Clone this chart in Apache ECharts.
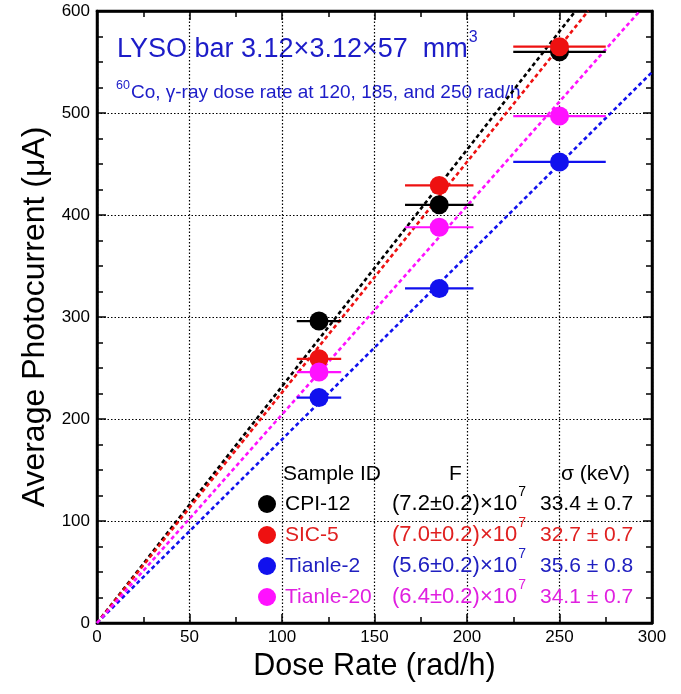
<!DOCTYPE html>
<html><head><meta charset="utf-8">
<script src="https://cdn.jsdelivr.net/npm/echarts@6/dist/echarts.min.js"></script>
<style>html,body{margin:0;padding:0;background:#fff}#c{width:681px;height:694px}</style>
</head><body><div id="c"></div>
<script>
const doseRates = [120, 185, 250];
const doseErrFrac = 0.1;
const samples = ['CPI-12', 'SIC-5', 'Tianle-2', 'Tianle-20'];
const photocurrent = {
  'CPI-12':   [296, 410, 560],
  'SIC-5':    [259, 429, 565],
  'Tianle-2': [221, 328, 452],
  'Tianle-20':[246, 388, 497]
};
const fitSlopes = { 'CPI-12': 2.32, 'SIC-5': 2.26, 'Tianle-2': 1.80, 'Tianle-20': 2.045 };
const Fvals = ['7.2', '7.0', '5.6', '6.4'];
const sigmaVals = ['33.4 \u00b1 0.7', '32.7 \u00b1 0.7', '35.6 \u00b1 0.8', '34.1 \u00b1 0.7'];
const colors = { 'CPI-12': '#000000', 'SIC-5': '#ee1111', 'Tianle-2': '#1111ee', 'Tianle-20': '#ff11ff' };
const textColors = { 'CPI-12': '#000000', 'SIC-5': '#e02020', 'Tianle-2': '#2020c0', 'Tianle-20': '#e020e0' };
const xTicks = [0, 50, 100, 150, 200, 250, 300];
const yTicks = [0, 100, 200, 300, 400, 500, 600];

const XMAX = 300, YMAX = 600;
const font = 'Liberation Sans, Arial, sans-serif';
const mctx = document.createElement('canvas').getContext('2d');
function tw(t, fs) { mctx.font = fs + 'px ' + font; return mctx.measureText(t).width; }

const series = [];
samples.forEach(s => {
  const k = fitSlopes[s];
  const xe = Math.min(XMAX, YMAX / k);
  series.push({
    type: 'line', data: [[0, 0], [xe, k * xe]], symbol: 'none', silent: true, z: 2,
    lineStyle: { color: colors[s], width: 2.6, type: [4, 3] }
  });
});
samples.forEach(s => {
  series.push({
    type: 'custom', z: 3, silent: true,
    data: doseRates.map((d, i) => [d, photocurrent[s][i], d * doseErrFrac]),
    renderItem: (params, api) => {
      const x = api.value(0), y = api.value(1), e = api.value(2);
      const p1 = api.coord([x - e, y]), p2 = api.coord([x + e, y]);
      return { type: 'line', shape: { x1: p1[0], y1: p1[1], x2: p2[0], y2: p2[1] },
        style: { stroke: colors[s], lineWidth: 2.2 } };
    }
  });
  series.push({
    type: 'scatter', z: 4, symbol: 'circle', symbolSize: 19,
    data: doseRates.map((d, i) => [d, photocurrent[s][i]]),
    itemStyle: { color: colors[s], opacity: 1 }
  });
});

const tickStyle = { color: '#000', width: 1.5 };
function ax(extra, minorSplit) {
  return Object.assign({
    axisLine: { show: true, onZero: false, lineStyle: { color: '#000', width: 2.5 } },
    axisTick: { show: true, inside: true, length: 9, lineStyle: tickStyle },
    minorTick: { show: true, splitNumber: minorSplit, length: 6, lineStyle: tickStyle }
  }, extra);
}

const gl = 97, gt = 11, gw = 555, gh = 612;
const blue = '#1c1cc8';
const graphics = [];
// title line 1
const t1 = 'LYSO bar 3.12\u00d73.12\u00d757  mm', f1 = 27;
graphics.push({ type: 'text', x: 117, y: 50, style: { text: t1, fontSize: f1, fill: blue, fontFamily: font, verticalAlign: 'middle' } });
graphics.push({ type: 'text', x: 117 + tw(t1, f1) + 1, y: 38, style: { text: '3', fontSize: 16, fill: blue, fontFamily: font, verticalAlign: 'middle' } });
// title line 2
graphics.push({ type: 'text', x: 116, y: 86, style: { text: '60', fontSize: 12.5, fill: blue, fontFamily: font, verticalAlign: 'middle' } });
graphics.push({ type: 'text', x: 116 + tw('60', 12.5) + 1, y: 93, style: { text: 'Co, \u03b3-ray dose rate at 120, 185, and 250 rad/h', fontSize: 19, fill: blue, fontFamily: font, verticalAlign: 'middle' } });
// legend table
const lf = 21;
graphics.push({ type: 'text', x: 283, y: 474, style: { text: 'Sample ID', fontSize: lf, fill: '#000', fontFamily: font, verticalAlign: 'middle' } });
graphics.push({ type: 'text', x: 449, y: 474, style: { text: 'F', fontSize: lf, fill: '#000', fontFamily: font, verticalAlign: 'middle' } });
graphics.push({ type: 'text', x: 561, y: 474, style: { text: '\u03c3 (keV)', fontSize: lf, fill: '#000', fontFamily: font, verticalAlign: 'middle' } });
const rowY = [504, 535, 566, 597];
samples.forEach((s, i) => {
  const c = textColors[s];
  const fy = rowY[i];
  graphics.push({ type: 'circle', z: 10, shape: { cx: 267, cy: fy, r: 9 }, style: { fill: colors[s] } });
  graphics.push({ type: 'text', z: 10, x: 285, y: fy, style: { text: s, fontSize: lf, fill: c, fontFamily: font, verticalAlign: 'middle' } });
  const ft = '(' + Fvals[i] + '\u00b10.2)\u00d710', ff = 22;
  graphics.push({ type: 'text', z: 10, x: 392, y: fy, style: { text: ft, fontSize: ff, fill: c, fontFamily: font, verticalAlign: 'middle' } });
  graphics.push({ type: 'text', z: 10, x: 392 + tw(ft, ff) + 1, y: fy - 12, style: { text: '7', fontSize: 14, fill: c, fontFamily: font, verticalAlign: 'middle' } });
  graphics.push({ type: 'text', z: 10, x: 540, y: fy, style: { text: sigmaVals[i], fontSize: lf, fill: c, fontFamily: font, verticalAlign: 'middle' } });
});

const chart = echarts.init(document.getElementById('c'));
chart.setOption({
  animation: false,
  backgroundColor: '#fff',
  grid: { left: gl, top: gt, width: gw, height: gh, show: true, borderColor: '#000', borderWidth: 2.5, backgroundColor: 'transparent' },
  xAxis: [
    ax({
      type: 'value', min: 0, max: XMAX, interval: 50,
      name: 'Dose Rate (rad/h)', nameLocation: 'middle', nameGap: 28,
      nameTextStyle: { fontSize: 30.5, color: '#000', fontFamily: font, verticalAlign: 'top' },
      axisLabel: { fontSize: 17, color: '#000', fontFamily: font, margin: 6, formatter: v => xTicks.includes(v) ? String(v) : '' },
      splitLine: { show: true, lineStyle: { color: '#000', type: [1.5, 2], width: 1.2 } }
    }, 2),
    ax({ type: 'value', position: 'top', min: 0, max: XMAX, interval: 50, axisLabel: { show: false }, splitLine: { show: false } }, 2)
  ],
  yAxis: [
    ax({
      type: 'value', min: 0, max: YMAX, interval: 100,
      name: 'Average Photocurrent (\u03bcA)', nameLocation: 'middle', nameGap: 46,
      nameTextStyle: { fontSize: 32, color: '#000', fontFamily: font },
      axisLabel: { fontSize: 17, color: '#000', fontFamily: font, margin: 7, formatter: v => yTicks.includes(v) ? String(v) : '' },
      splitLine: { show: true, lineStyle: { color: '#000', type: [1.5, 2], width: 1.2 } }
    }, 4),
    ax({ type: 'value', position: 'right', min: 0, max: YMAX, interval: 100, axisLabel: { show: false }, splitLine: { show: false } }, 4)
  ],
  series: series,
  graphic: graphics
});
</script></body></html>
